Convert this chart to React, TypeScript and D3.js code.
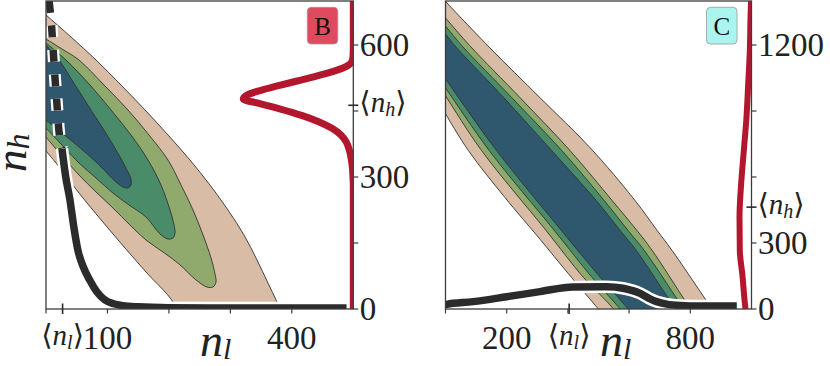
import React from 'react';
import * as d3 from 'd3';

type P = [number, number];

// ---------- Panel B ----------
const bTicksX = [0, 100, 200, 300, 400];
const bTickLabelsX = [100, 400];
const bTicksY = [0, 150, 300, 450, 600];
const bTickLabelsY = [0, 300, 600];
const bMeanNl = 27;
const bMeanNh = 463;

// marginal of n_l (relative density)
const bNl = [0, 5, 9, 12, 15, 18, 21, 26, 32, 39, 45, 52, 60, 71, 83, 96, 110, 125, 150, 200, 300, 489];
const bPnl = [1.12, 1.0, 0.92, 0.83, 0.74, 0.66, 0.58, 0.52, 0.43, 0.354, 0.27, 0.19, 0.14, 0.094, 0.055, 0.029, 0.017, 0.011, 0.007, 0.004, 0.003, 0.003];
// marginal of n_h (relative density)
const bNh = [0, 280, 300, 320, 340, 360, 380, 395, 410, 425, 440, 455, 467, 477, 487, 497, 507, 517, 527, 537, 547, 555, 563, 575, 600, 700];
const bPnh = [0, 0, 0.003, 0.008, 0.018, 0.035, 0.065, 0.11, 0.19, 0.31, 0.47, 0.67, 0.85, 1.0, 0.96, 0.84, 0.69, 0.53, 0.37, 0.22, 0.1, 0.04, 0.012, 0.002, 0, 0];

// contour boundaries (n_l, n_h)
const bBeige: P[] = [[-16.3, 688.6], [0, 668.2], [40.7, 618.2], [81.4, 565.9], [122, 509.1], [162.7, 450], [198.5, 395.5], [234.3, 338.6], [266.8, 281.8], [296.1, 225], [322.2, 168.2], [343.3, 111.4], [361.2, 59.1], [375.9, 15.9], [392.1, -36.4], [226.2, -47.7], [206.6, 15.9], [162.7, 84.1], [109, 170.5], [53.7, 263.6], [16.3, 331.8], [0, 359.1], [-16.3, 386.4]];
const bLightGreen: P[] = [[-16.3, 627.3], [0, 613.6], [26, 590.9], [53.7, 565.9], [94.4, 509.1], [133.4, 452.3], [167.6, 395.5], [198.5, 338.6], [219.7, 281.8], [239.2, 225], [255.5, 168.2], [268.5, 115.9], [275, 79.5], [276.6, 61.4], [271.7, 50], [262, 50], [244.1, 65.9], [216.4, 102.3], [190.4, 129.5], [162.7, 156.8], [136.7, 190.9], [109, 229.5], [81.4, 265.9], [53.7, 304.5], [26, 347.7], [0, 390.9], [-16.3, 418.2]];
const bGreen: P[] = [[-16.3, 622.7], [0, 604.5], [32.5, 565.9], [71.6, 509.1], [105.8, 452.3], [138.3, 395.5], [166, 338.6], [187.1, 281.8], [201.8, 225], [208.3, 190.9], [209.9, 172.7], [206.6, 161.4], [198.5, 159.1], [185.5, 170.5], [162.7, 209.1], [135, 236.4], [109, 263.6], [81.4, 297.7], [53.7, 331.8], [26, 372.7], [0, 411.4], [-16.3, 436.4]];
const bBlue: P[] = [[-16.3, 622.7], [0, 600], [21.2, 565.9], [47.2, 509.1], [73.2, 452.3], [99.3, 395.5], [120.4, 345.5], [133.4, 311.4], [138.3, 295.5], [138.3, 281.8], [133.4, 275], [125.3, 277.3], [113.9, 288.6], [81.4, 334.1], [53.7, 368.2], [26, 400], [0, 429.5], [-16.3, 447.7]];

// ---------- Panel C ----------
const cTicksX = [0, 200, 400, 600, 800];
const cTickLabelsX = [200, 800];
const cTicksY = [0, 300, 600, 900, 1200];
const cTickLabelsY = [0, 300, 1200];
const cMeanNl = 404;
const cMeanNh = 463;

const cNl = [0, 4, 90, 200, 309, 417, 527, 580, 636, 665, 690, 723, 766, 830, 952];
const cPnl = [0.2, 0.21, 0.33, 0.55, 0.78, 0.99, 1.0, 0.93, 0.7, 0.48, 0.33, 0.22, 0.16, 0.135, 0.135];
const cNh = [0, 41, 150, 267, 417, 571, 720, 870, 1023, 1173, 1322, 1400];
const cPnh = [0.5, 0.58, 0.75, 0.975, 1.0, 0.86, 0.64, 0.42, 0.275, 0.14, 0.083, 0.04];

const cBeigeUpper: P[] = [[-83, 1522], [2, 1395], [145, 1187], [309, 960], [472, 734], [619, 494], [691, 358], [740, 267], [858, 27], [930, -118]];
const cBeigeLower: P[] = [[-28, 960], [0, 888], [75, 720], [194, 507], [309, 317], [400, 163], [483, 27], [570, -118]];
const cLightGreenUpper: P[] = [[-51, 1404], [0, 1323], [80, 1196], [244, 960], [407, 720], [544, 494], [625, 358], [675, 267], [788, 27], [858, -118]];
const cLightGreenLower: P[] = [[-34, 1042], [0, 969], [118, 720], [328, 358], [450, 145], [532, 27], [623, -118]];
const cGreenUpper: P[] = [[-51, 1368], [0, 1286], [54, 1196], [217, 960], [380, 720], [518, 494], [596, 358], [649, 267], [766, 27], [838, -118]];
const cGreenLower: P[] = [[-34, 1073], [0, 1005], [143, 720], [355, 358], [478, 145], [554, 27], [645, -118]];
const cBlueUpper: P[] = [[-51, 1332], [0, 1250], [31, 1196], [191, 960], [347, 720], [492, 494], [570, 358], [623, 267], [739, 27], [812, -118]];
const cBlueLower: P[] = [[-34, 1114], [0, 1046], [167, 720], [378, 358], [505, 145], [580, 27], [668, -118]];

// ---------- styles ----------
const COL_BEIGE = '#d8bca5';
const COL_LGREEN = '#8faa6c';
const COL_GREEN = '#4a8b6a';
const COL_BLUE = '#2f576e';
const COL_RED = '#b3172d';
const COL_BLACK = '#2b2b2b';
const COL_AXIS = '#3c3c3c';
const SERIF = '"Liberation Serif", "Times New Roman", Tinos, "DejaVu Serif", serif';
const T = { fontFamily: SERIF } as React.CSSProperties;

const zip = (a: number[], b: number[]): P[] => a.map((v, i) => [v, b[i]]);

function Panel(props: any) {
  const { id, x, y, pX, qY, ticksX, labelsX, ticksY, labelsY, meanNl, meanNh, shapes, bands,
    nl, pnl, nh, pnh, dashedMax, redWidth, box, labelX } = props;
  const [x0, x1] = x.range();
  const [y1, y0] = y.range();
  const cl = d3.line<P>().x(d => x(d[0])).y(d => y(d[1])).curve(d3.curveCatmullRom);
  const fills = [COL_BEIGE, COL_LGREEN, COL_GREEN, COL_BLUE];
  const paths: string[] = shapes
    ? shapes.map((s: P[]) => cl(s) + 'Z')
    : bands.map(([u, l]: [P[], P[]]) => {
        const a = cl(u) as string;
        const b = cl(l.slice().reverse()) as string;
        return a + 'L' + b.slice(1) + 'Z';
      });
  const blackLine = d3.line<P>().x(d => x(d[0])).y(d => pX(d[1])).curve(d3.curveMonotoneX);
  const pts = zip(nl, pnl);
  const dashed = dashedMax ? pts.filter(p => p[0] >= 5 && p[0] <= dashedMax) : [];
  const solid = dashedMax ? pts.filter(p => p[0] >= dashedMax) : pts;
  const redLine = d3.line<P>().x(d => qY(d[1])).y(d => y(d[0])).curve(d3.curveMonotoneY);
  const redPts = zip(nh, pnh);
  const dash = '12 12.5';
  return (
    <g>
      <defs>
        <clipPath id={id}>
          <rect x={x0} y={y0} width={x1 - x0} height={y1 - y0} />
        </clipPath>
      </defs>
      <g clipPath={`url(#${id})`}>
        {paths.map((d, i) => (
          <path key={i} d={d} fill={fills[i]} stroke="#333" strokeWidth={0.9} />
        ))}
        {dashed.length > 0 && (
          <g>
            <path d={blackLine(dashed) as string} fill="none" stroke="#fff" strokeWidth={12} strokeDasharray={dash} />
            <path d={blackLine(dashed) as string} fill="none" stroke={COL_BLACK} strokeWidth={7.5} strokeDasharray={dash} />
          </g>
        )}
        <path d={blackLine(solid) as string} fill="none" stroke="#fff" strokeWidth={12.5} />
        <path d={blackLine(solid) as string} fill="none" stroke={COL_BLACK} strokeWidth={7.5} />
        <path d={redLine(redPts) as string} fill="none" stroke={COL_RED} strokeWidth={redWidth} />
      </g>
      <rect x={x0} y={y0} width={x1 - x0} height={y1 - y0} fill="none" stroke={COL_AXIS} strokeWidth={1.3} />
      {ticksX.map((t: number) => (
        <line key={'tx' + t} x1={x(t)} x2={x(t)} y1={y1} y2={y1 + 4.5} stroke={COL_AXIS} strokeWidth={1.2} />
      ))}
      <line x1={x(meanNl)} x2={x(meanNl)} y1={y1 - 5.5} y2={y1 + 5} stroke={COL_BLACK} strokeWidth={1.6} />
      {labelsX.map((t: number) => (
        <text key={'lx' + t} x={x(t)} y={349} textAnchor="middle" style={T} fontSize={33} fill="#222">{t}</text>
      ))}
      <text x={x(meanNl)} y={345} textAnchor="middle" style={T} fontSize={29} fill="#222">
        <tspan>⟨</tspan><tspan fontStyle="italic">n</tspan><tspan fontStyle="italic" fontSize={20} dy={4}>l</tspan><tspan dy={-4}>⟩</tspan>
      </text>
      {ticksY.map((t: number) => (
        <line key={'ty' + t} x1={x1} x2={x1 + 5} y1={y(t)} y2={y(t)} stroke={COL_AXIS} strokeWidth={1.2} />
      ))}
      <line x1={x1 - 5} x2={x1 + 5} y1={y(meanNh)} y2={y(meanNh)} stroke={COL_BLACK} strokeWidth={1.6} />
      {labelsY.map((t: number) => (
        <text key={'ly' + t} x={x1 + 6.5} y={y(t) + 11} style={T} fontSize={33} fill="#222">{t}</text>
      ))}
      <text x={x1 + 6} y={y(meanNh) + 7} style={T} fontSize={29} fill="#222">
        <tspan>⟨</tspan><tspan fontStyle="italic">n</tspan><tspan fontStyle="italic" fontSize={20} dy={4}>h</tspan><tspan dy={-4}>⟩</tspan>
      </text>
      <text x={labelX} y={356} style={T} fontSize={46} fill="#222">
        <tspan fontStyle="italic">n</tspan><tspan fontStyle="italic" fontSize={30} dy={3}>l</tspan>
      </text>
      <rect x={x1 - box.dx} y={7.3} width={30.5} height={36.7} rx={4} fill={box.fill} stroke="#9a9a9a" strokeWidth={0.8} />
      <text x={x1 - box.dx + 15.25} y={35} textAnchor="middle" style={T} fontSize={25} fill="#111">{box.label}</text>
    </g>
  );
}

export default function App() {
  const xB = d3.scaleLinear().domain([0, 500]).range([46, 353.3]);
  const yB = d3.scaleLinear().domain([0, 700]).range([309, 1]);
  const pB = d3.scaleLinear().domain([0, 1]).range([309, 1]);
  const qB = d3.scaleLinear().domain([0, 1]).range([353.3, 243.3]);

  const xC = d3.scaleLinear().domain([0, 1000]).range([445.5, 751.5]);
  const yC = d3.scaleLinear().domain([0, 1400]).range([309, 1]);
  const pC = d3.scaleLinear().domain([0, 1]).range([309, 286.7]);
  const qC = d3.scaleLinear().domain([0, 1]).range([751.5, 739.5]);

  return (
    <svg width={830} height={366} style={{ position: 'absolute', left: 0, top: 0, background: '#fff', fontFamily: SERIF }}>
      <rect width={830} height={366} fill="#fff" />
      <Panel id="clipB" x={xB} y={yB} pX={pB} qY={qB}
        ticksX={bTicksX} labelsX={bTickLabelsX} ticksY={bTicksY} labelsY={bTickLabelsY}
        meanNl={bMeanNl} meanNh={bMeanNh}
        shapes={[bBeige, bLightGreen, bGreen, bBlue]}
        nl={bNl} pnl={bPnl} nh={bNh} pnh={bPnh} dashedMax={26} redWidth={7}
        labelX={200}
        box={{ dx: 46, fill: '#df4a5f', label: 'B' }} />
      <Panel id="clipC" x={xC} y={yC} pX={pC} qY={qC}
        ticksX={cTicksX} labelsX={cTickLabelsX} ticksY={cTicksY} labelsY={cTickLabelsY}
        meanNl={cMeanNl} meanNh={cMeanNh}
        bands={[[cBeigeUpper, cBeigeLower], [cLightGreenUpper, cLightGreenLower], [cGreenUpper, cGreenLower], [cBlueUpper, cBlueLower]]}
        nl={cNl} pnl={cPnl} nh={cNh} pnh={cPnh} dashedMax={0} redWidth={6}
        labelX={600}
        box={{ dx: 45, fill: '#aaf5f0', label: 'C' }} />
      <text transform="translate(26,172) rotate(-90)" style={T} fontSize={45} fill="#222">
        <tspan fontStyle="italic">n</tspan><tspan fontStyle="italic" fontSize={32} dy={3}>h</tspan>
      </text>
    </svg>
  );
}
